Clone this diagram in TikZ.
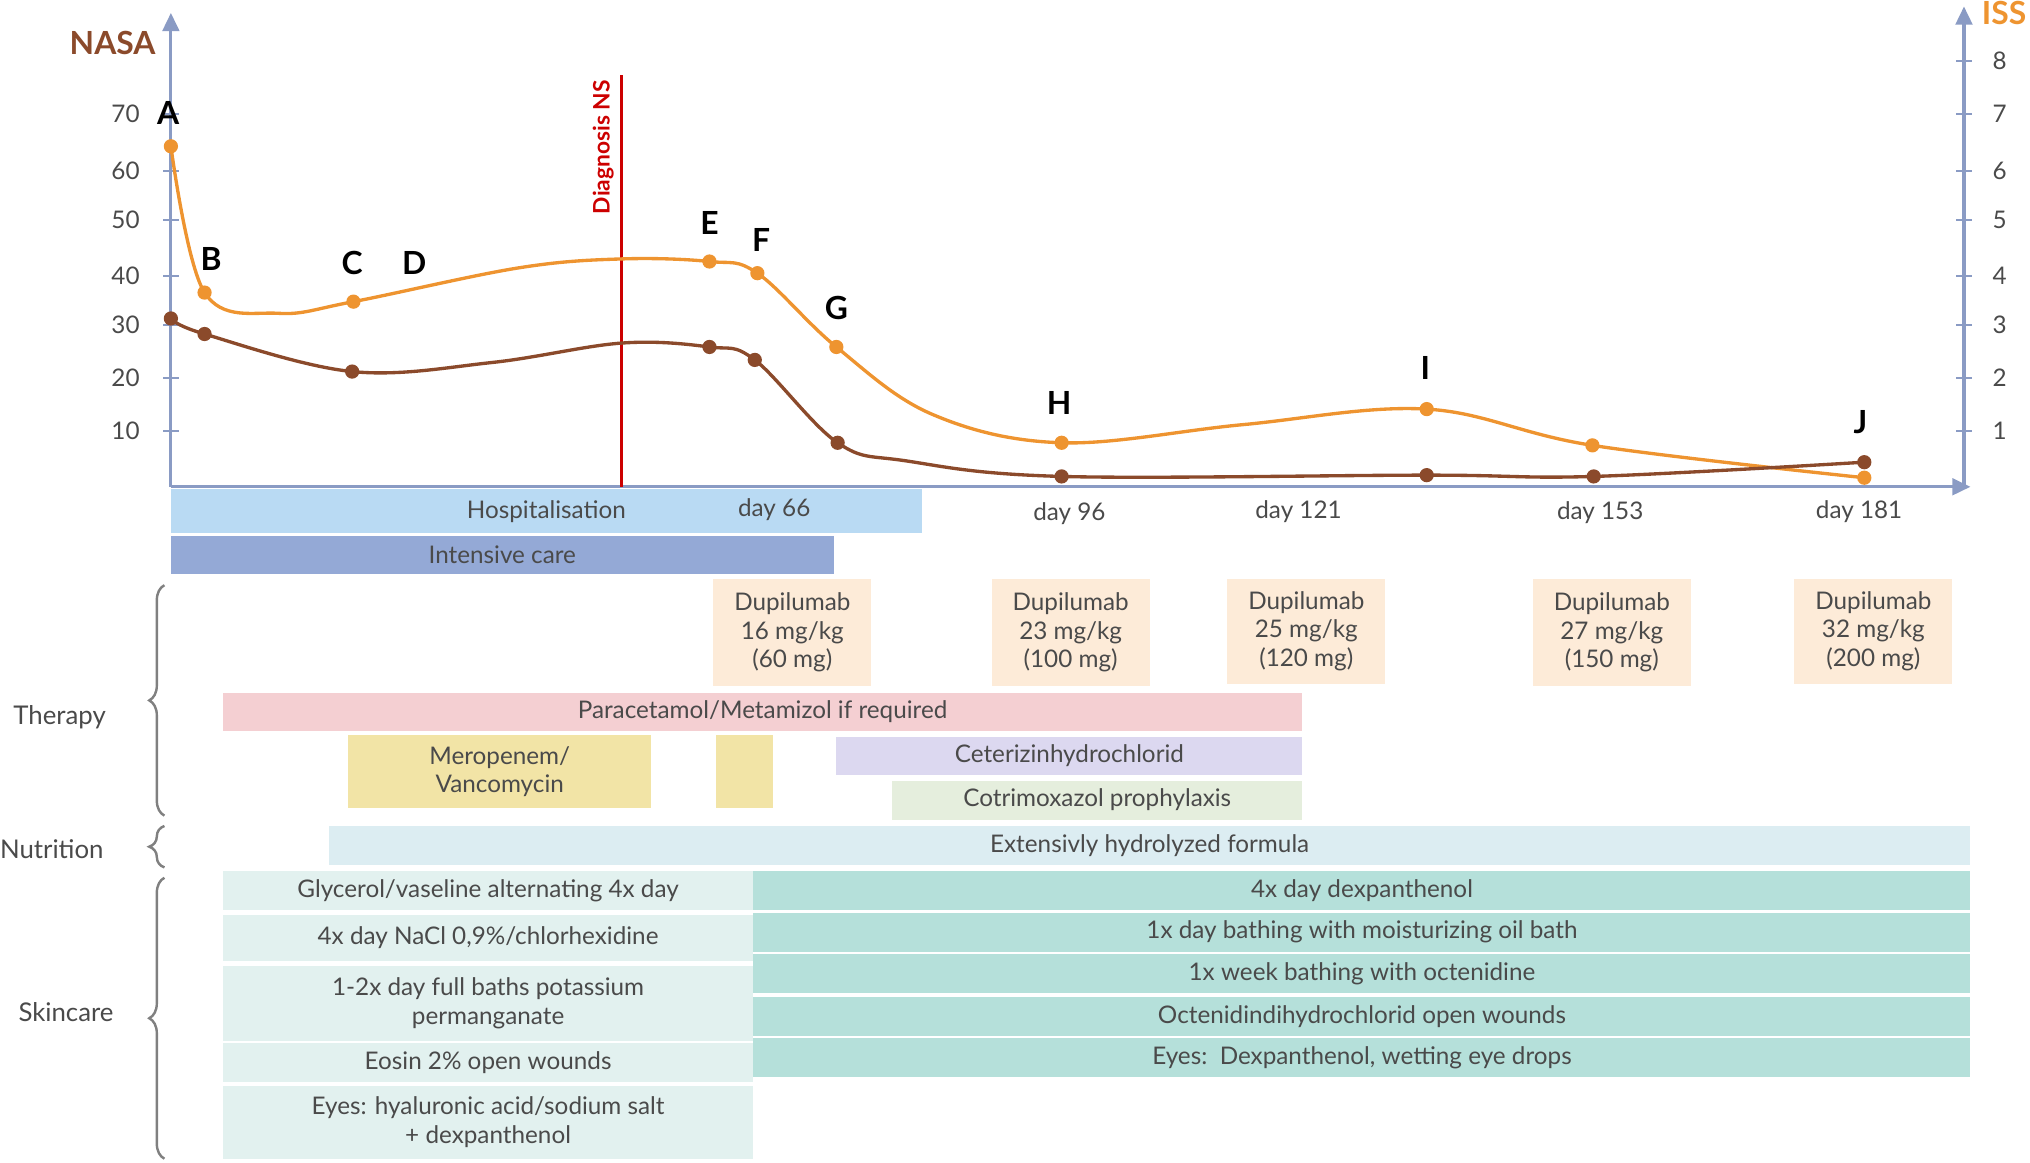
\documentclass[tikz,border=0pt]{standalone}
\usepackage{fontspec}
\setmainfont{Lato}
\usetikzlibrary{decorations.pathreplacing,arrows.meta}
\definecolor{txt}{HTML}{4A4A4A}
\definecolor{ax}{HTML}{8A9BC4}
\definecolor{org}{HTML}{EE9430}
\definecolor{brn}{HTML}{8B4A2B}
\definecolor{hosp}{HTML}{B9DAF3}
\definecolor{icu}{HTML}{94A9D6}
\definecolor{dup}{HTML}{FDEBD8}
\definecolor{pink}{HTML}{F4CFD2}
\definecolor{yel}{HTML}{F2E4A6}
\definecolor{lav}{HTML}{DCD8F0}
\definecolor{cot}{HTML}{E5EEDD}
\definecolor{nut}{HTML}{DCEDF2}
\definecolor{skl}{HTML}{E2F1EF}
\definecolor{skr}{HTML}{B5E0DA}
\tikzset{
 bar/.style={inner sep=0pt,text=txt,font=\fontsize{16}{19}\selectfont,align=center},
 lbl/.style={font=\fontsize{21}{22}\selectfont\bfseries},
 tk/.style={text=txt,font=\fontsize{16}{18}\selectfont},
 brc/.style={draw=gray,line width=1.6pt,decorate,decoration={brace,amplitude=10pt}}
}
\newcommand{\bx}[6]{\fill[#5] (#1,#2) rectangle (#3,#4); \node[bar] at ({(#1+#3)/2},{(#2+#4)/2}) {#6};}
\begin{document}
\begin{tikzpicture}[x=0.03cm,y=-0.03cm]
\useasboundingbox (0,0) rectangle (1568,898);
\bx{132}{378}{712}{412}{hosp}{}
\node[bar] at (422,395) {Hospitalisation};
\node[bar] at (598,394) {day 66};
\bx{132}{414}{644}{443}{icu}{Intensive care}
\foreach \x/\y/\t in {826/397/96,1003/395/121,1236/396/153,1436/395/181}
  \node[bar] at (\x,\y) {day \t};
\draw[ax,line width=2pt,-{Triangle[width=11pt,length=12pt]}] (132,376) -- (132,10);
\draw[ax,line width=2pt,-{Triangle[width=11pt,length=12pt]}] (1517,376) -- (1517,5);
\draw[ax,line width=2pt,-{Triangle[width=11pt,length=12pt]}] (132,376) -- (1522,376);
\foreach \y/\t in {88/70,132/60,170/50,213/40,251/30,292/20,333/10}{
 \draw[ax,line width=1.5pt] (126,\y) -- (138,\y); \node[tk,anchor=east] at (112,\y) {\t};}
\foreach \y/\t in {47/8,88/7,132/6,170/5,213/4,251/3,292/2,333/1}{
 \draw[ax,line width=1.5pt] (1511,\y) -- (1523,\y); \node[tk,anchor=west] at (1535,\y) {\t};}
\node[lbl,text=brn] at (87,33) {NASA};
\node[lbl,text=org] at (1548,10) {ISS};
\draw[red!80!black,line width=1.8pt] (480,58) -- (480,376);
\node[rotate=90,text=red!80!black,font=\fontsize{15}{16}\selectfont\bfseries,anchor=east] at (466,58) {Diagnosis NS};
\draw[org,line width=2.2pt] plot[smooth,tension=0.6] coordinates {(132,113)(158,226)(215,242)(273,233)(400,207)(480,200)(548,202)(585,211)(646,268)(720,320)(820,342)(960,328)(1102,316)(1230,344)(1440,369)};
\draw[brn,line width=2.2pt] plot[smooth,tension=0.6] coordinates {(132,246)(158,258)(272,287)(380,280)(480,265)(548,268)(583,278)(647,342)(700,356)(820,368)(1102,367)(1231,368)(1440,357)};
\foreach \x/\y in {132/113,158/226,273/233,548/202,585/211,646/268,820/342,1102/316,1230/344,1440/369}
 \fill[org] (\x,\y) circle (5.5);
\foreach \x/\y in {132/246,158/258,272/287,548/268,583/278,647/342,820/368,1102/367,1231/368,1440/357}
 \fill[brn] (\x,\y) circle (5.5);
\foreach \x/\y/\t in {130/87/A,163/200/B,272/203/C,320/203/D,548/172/E,588/185/F,646/238/G,818/311/H,1101/284/I,1437/326/J}
 \node[lbl] at (\x,\y) {\t};
\bx{551}{447}{673}{530}{dup}{Dupilumab\\16 mg/kg\\(60 mg)}
\bx{766}{447}{888}{530}{dup}{Dupilumab\\23 mg/kg\\(100 mg)}
\bx{948}{447}{1070}{528}{dup}{Dupilumab\\25 mg/kg\\(120 mg)}
\bx{1184}{447}{1306}{530}{dup}{Dupilumab\\27 mg/kg\\(150 mg)}
\bx{1386}{447}{1508}{528}{dup}{Dupilumab\\32 mg/kg\\(200 mg)}
\bx{172}{535}{1006}{565}{pink}{Paracetamol/Metamizol if required}
\bx{269}{568}{503}{624}{yel}{Meropenem/\\Vancomycin}
\bx{553}{568}{597}{624}{yel}{}
\bx{646}{569}{1006}{599}{lav}{Ceterizinhydrochlorid}
\bx{689}{603}{1006}{633}{cot}{Cotrimoxazol prophylaxis}
\bx{254}{638}{1522}{668}{nut}{Extensivly hydrolyzed formula}
\bx{172}{673}{582}{703}{skl}{Glycerol/vaseline alternating 4x day}
\bx{172}{707}{582}{742}{skl}{4x day NaCl 0,9\%/chlorhexidine}
\bx{172}{746}{582}{804}{skl}{1-2x day full baths potassium\\permanganate}
\bx{172}{806}{582}{836}{skl}{Eosin 2\% open wounds}
\bx{172}{839}{582}{895}{skl}{Eyes: hyaluronic acid/sodium salt\\+ dexpanthenol}
\bx{582}{673}{1522}{703}{skr}{4x day dexpanthenol}
\bx{582}{705}{1522}{735}{skr}{1x day bathing with moisturizing oil bath}
\bx{582}{737}{1522}{767}{skr}{1x week bathing with octenidine}
\bx{582}{770}{1522}{800}{skr}{Octenidindihydrochlorid open wounds}
\bx{582}{802}{1522}{832}{skr}{Eyes:\ \ Dexpanthenol, wetting eye drops}
\draw[brc] (127,630) -- (127,452);
\draw[brc] (127,670) -- (127,638);
\draw[brc] (127,895) -- (127,678);
\node[tk,font=\fontsize{17}{18}\selectfont] at (46,554) {Therapy};
\node[tk,font=\fontsize{17}{18}\selectfont] at (40,656) {Nutrition};
\node[tk,font=\fontsize{17}{18}\selectfont] at (51,782) {Skincare};
\end{tikzpicture}
\end{document}
